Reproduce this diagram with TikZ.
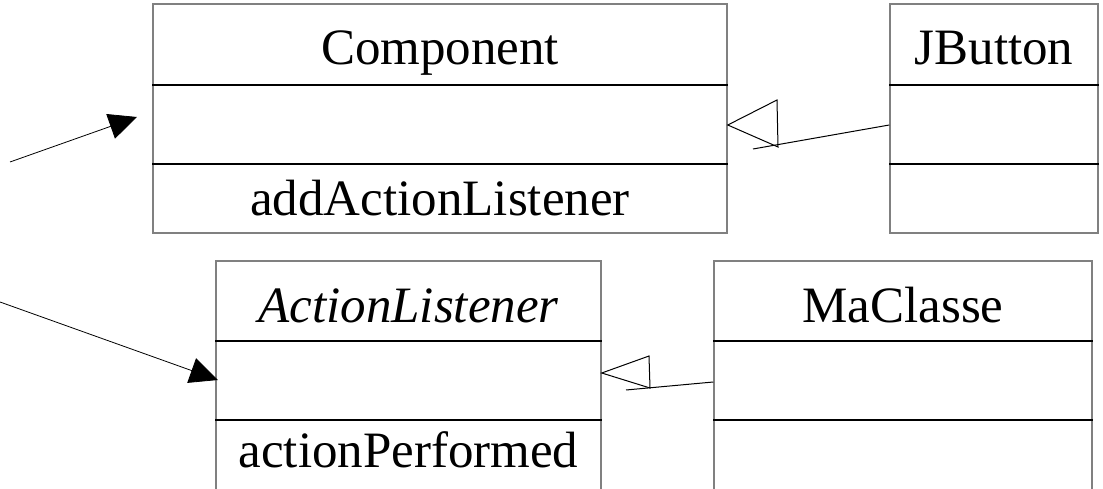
\documentclass[tikz,border=0pt]{standalone}
\usepackage{fontspec}
\setmainfont{Liberation Serif}
\usepackage{tikz}
\usetikzlibrary{arrows.meta,positioning,calc}

\begin{document}
\begin{tikzpicture}[x=1pt, y=-1pt,
  font=\fontsize{51}{60}\selectfont,
  cls/.style={draw=gray, line width=1.5pt, inner sep=0pt},
  sep/.style={line width=1.5pt},
  lbl/.style={anchor=base, inner sep=0pt},
  assoc/.style={-{Triangle[length=28pt, width=26pt]}, line width=0.8pt},
  gen/.style={line width=1pt, line join=miter}
]
\useasboundingbox (0,0) rectangle (1103,489);

% Class boxes
\node[cls, minimum width=574pt, minimum height=229pt] (comp) at (440,118.5) {};
\node[cls, minimum width=208pt, minimum height=229pt] (jbut) at (994,118.5) {};
\node[cls, minimum width=385pt, minimum height=240pt] (alis) at (408.5,381) {};
\node[cls, minimum width=378pt, minimum height=240pt] (macl) at (903,381) {};

% Compartments
\foreach \y in {85,164}
  \draw[sep] (comp.west |- 0,\y) -- (comp.east |- 0,\y)
             (jbut.west |- 0,\y) -- (jbut.east |- 0,\y);
\foreach \y in {341,420}
  \draw[sep] (alis.west |- 0,\y) -- (alis.east |- 0,\y)
             (macl.west |- 0,\y) -- (macl.east |- 0,\y);

% Names and operations
\node[lbl] (compname) at (440,65) {Component};
\node[lbl] (compop) at (440,215) {addActionListener};
\node[lbl] (jbutname) at (994,65) {JButton};
\node[lbl] (alisname) at (408.5,322) {\itshape ActionListener};
\node[lbl] (alisop) at (408.5,467) {actionPerformed};
\node[lbl] (maclname) at (903,322) {MaClasse};

% Associations
\coordinate (a1) at (10,162);
\coordinate (a1tip) at (137,117);
\coordinate (a2) at (0,302);
\coordinate (a2tip) at (218,380);
\draw[assoc] (a1) -- (a1tip);
\draw[assoc] (a2) -- (a2tip);

% Generalizations
\coordinate (g1) at (jbut.west |- 0,125);
\coordinate (g1end) at (753,149);
\draw[gen] (g1) -- (g1end);
\draw[gen] (777,100) -- (comp.east |- 0,125) -- (778,147) -- cycle;
\coordinate (g2) at (macl.west |- 0,382);
\coordinate (g2end) at (626,390);
\draw[gen] (g2) -- (g2end);
\draw[gen] (649,356) -- (alis.east |- 0,373) -- (650,388) -- cycle;
\end{tikzpicture}
\end{document}
